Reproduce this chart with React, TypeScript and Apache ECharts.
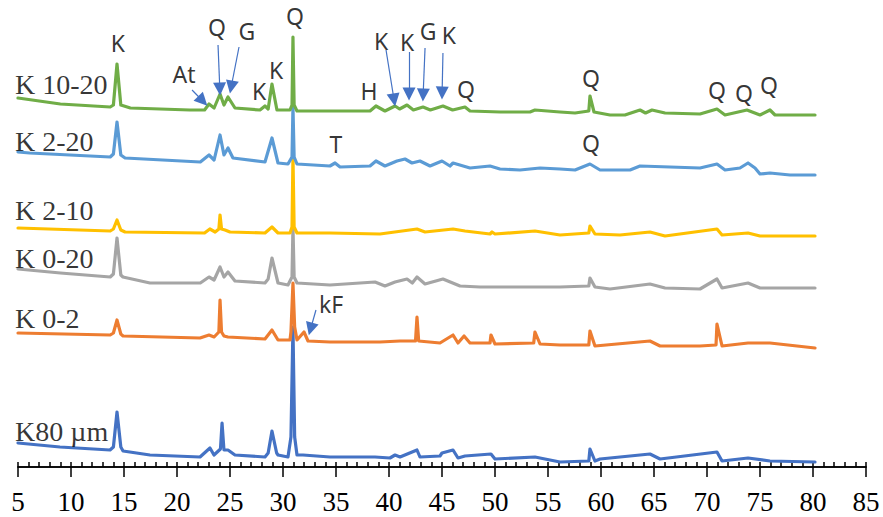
import React, { useEffect, useRef } from "react";
import * as echarts from "echarts";

// 2θ (deg) vs stacked intensity (offset, arbitrary units)
const seriesNames = ["K80 µm", "K 0-2", "K 0-20", "K 2-10", "K 2-20", "K 10-20"];
const seriesColors = ["#4472C4", "#ED7D31", "#A5A5A5", "#FFC000", "#5B9BD5", "#70AD47"];

const k80um: number[][] = [
  [5.0, 24], [8.96, 20], [13.68, 17], [14.0, 20], [14.34, 55], [14.7, 20], [14.91, 16],
  [17.45, 12], [22.17, 10], [23.11, 19], [23.49, 12], [24.1, 18], [24.25, 44], [24.43, 17],
  [24.81, 17], [25.47, 12], [28.3, 10], [28.6, 14], [28.96, 36], [29.4, 14], [29.53, 12],
  [30.47, 10], [30.75, 30], [30.94, 140], [31.1, 30], [31.32, 12], [31.89, 12], [34.43, 10],
  [38.68, 10], [40.09, 9], [40.57, 12], [41.04, 10], [42.64, 17], [42.92, 10], [44.81, 11],
  [45.0, 14], [46.04, 17], [46.51, 9], [47.17, 11], [49.62, 13], [50.0, 8], [53.77, 10],
  [56.13, 5], [58.85, 6], [58.96, 18], [59.43, 6], [59.91, 8], [64.62, 13], [65.57, 8],
  [70.94, 15], [71.42, 6], [73.87, 9], [75.94, 6], [80.19, 5],
];

const k0_2: number[][] = [
  [5.0, 134], [13.7, 132], [14.0, 134], [14.34, 147], [14.7, 133], [14.91, 131], [22.17, 129],
  [23.02, 132], [23.5, 130], [23.95, 135], [24.06, 167], [24.2, 135], [24.43, 131], [24.81, 130],
  [28.3, 128], [28.96, 137], [29.53, 127], [30.66, 127], [30.75, 135], [30.94, 184], [31.1, 140],
  [31.32, 127], [31.98, 135], [32.36, 126], [34.43, 125], [39.15, 125], [41.04, 126], [42.5, 126],
  [42.64, 150], [42.8, 126], [44.81, 124], [46.04, 132], [46.51, 124], [47.08, 131], [47.64, 124],
  [49.53, 124], [49.62, 132], [50.0, 123], [53.65, 124], [53.77, 135], [54.25, 123], [56.13, 122],
  [58.85, 122], [58.96, 136], [59.43, 121], [64.62, 126], [65.57, 121], [69.34, 121], [70.85, 122],
  [70.94, 143], [71.42, 121], [73.87, 124], [75.94, 124], [80.19, 119],
];

const k0_20: number[][] = [
  [5.0, 198], [9.0, 194], [13.7, 190], [14.0, 193], [14.34, 229], [14.7, 192], [14.9, 190],
  [17.45, 184], [22.2, 184], [23.02, 190], [23.5, 187], [24.06, 200], [24.43, 190], [24.81, 195],
  [25.47, 186], [28.3, 184], [28.6, 188], [28.96, 209], [29.53, 184], [30.47, 182], [30.85, 190],
  [30.94, 240], [31.05, 190], [31.32, 184], [34.43, 182], [38.68, 185], [39.62, 181], [40.57, 185],
  [41.7, 188], [42.2, 184], [42.64, 190], [43.4, 183], [45.09, 188], [46.7, 181], [48.58, 180],
  [52.36, 180], [56.13, 180], [58.85, 181], [58.96, 189], [59.43, 180], [60.85, 178], [64.62, 183],
  [66.04, 179], [69.34, 178], [70.94, 188], [71.42, 179], [73.87, 184], [75.0, 179], [80.19, 179],
];

const k2_10: number[][] = [
  [5.0, 239], [13.7, 236], [14.0, 238], [14.34, 247], [14.7, 237], [15.1, 235], [22.6, 234],
  [23.1, 238], [23.6, 235], [23.95, 238], [24.06, 252], [24.2, 238], [24.53, 237], [25.0, 235],
  [28.3, 234], [28.96, 240], [29.53, 234], [30.66, 234], [30.85, 240], [30.94, 310], [31.05, 240],
  [31.32, 234], [34.43, 234], [39.15, 233], [42.64, 238], [43.4, 235], [46.04, 238], [47.17, 236],
  [49.53, 233], [49.72, 235], [50.0, 233], [53.77, 236], [56.13, 232], [58.85, 234], [58.96, 241],
  [59.43, 233], [61.79, 232], [64.62, 235], [66.04, 231], [70.94, 238], [71.42, 232], [73.87, 234],
  [75.0, 231], [80.19, 231],
];

const k2_20: number[][] = [
  [5.0, 315], [6.1, 314], [13.7, 310], [14.0, 313], [14.34, 345], [14.7, 312], [15.1, 309],
  [22.2, 305], [23.02, 312], [23.5, 307], [24.06, 332], [24.43, 312], [24.81, 319], [25.28, 309],
  [28.3, 305], [28.96, 329], [29.53, 304], [30.47, 303], [30.85, 310], [30.94, 360], [31.05, 310],
  [31.32, 303], [34.43, 301], [34.91, 304], [35.38, 300], [38.21, 301], [38.77, 306], [39.62, 301],
  [40.75, 306], [41.51, 308], [42.17, 304], [42.92, 306], [43.87, 301], [45.0, 306], [45.75, 301],
  [46.04, 304], [47.64, 299], [49.53, 301], [50.47, 298], [52.36, 297], [54.25, 299], [56.13, 298],
  [57.55, 297], [58.96, 303], [59.91, 297], [62.74, 297], [63.68, 301], [66.51, 300], [69.34, 299],
  [70.94, 303], [71.7, 297], [73.11, 299], [73.87, 304], [74.53, 299], [75.0, 293], [75.94, 294],
  [77.83, 292], [80.19, 292],
];

const k10_20: number[][] = [
  [5.0, 369], [9.0, 363], [13.7, 360], [14.0, 362], [14.34, 403], [14.7, 362], [15.6, 359],
  [21.2, 357], [22.6, 357], [23.02, 363], [23.5, 359], [24.06, 373], [24.43, 362], [24.81, 370],
  [25.47, 359], [27.83, 357], [28.3, 361], [28.6, 358], [28.96, 383], [29.43, 357], [30.66, 357],
  [30.85, 362], [30.94, 430], [31.05, 362], [31.32, 356], [34.43, 356], [38.21, 356], [38.77, 361],
  [39.62, 356], [40.57, 361], [41.0, 358], [41.7, 362], [42.3, 357], [43.21, 360], [43.9, 357],
  [45.09, 361], [46.0, 357], [47.17, 360], [47.64, 356], [50.5, 355], [53.3, 355], [53.77, 357],
  [56.13, 355], [57.55, 354], [58.85, 356], [58.96, 371], [59.34, 355], [60.85, 352], [62.26, 352],
  [63.68, 357], [64.2, 354], [64.81, 357], [66.04, 354], [69.34, 353], [70.94, 358], [71.7, 352],
  [73.77, 357], [75.0, 352], [75.94, 357], [76.42, 352], [80.19, 352],
];

const seriesData = [k80um, k0_2, k0_20, k2_10, k2_20, k10_20];

// sample name labels: [2θ, intensity]
const nameLabelAnchors: number[][] = [
  [4.72, 36], [4.72, 149], [4.72, 209], [4.72, 257], [4.72, 326], [4.72, 383],
];

// phase labels: [text, 2θ, intensity]
const phaseLabels: [string, number, number][] = [
  ["K", 14.43, 424], ["At", 20.66, 393], ["Q", 23.77, 440], ["G", 26.6, 436],
  ["K", 27.74, 376], ["K", 29.34, 397], ["Q", 31.13, 451], ["H", 38.11, 376],
  ["K", 39.25, 426], ["K", 41.7, 425], ["G", 43.68, 436], ["K", 45.66, 432],
  ["Q", 47.26, 378], ["T", 35.0, 323], ["Q", 59.06, 389], ["Q", 59.06, 324],
  ["Q", 70.94, 377], ["Q", 73.49, 374], ["Q", 75.85, 382], ["kF", 34.53, 163],
];

// arrows: [from 2θ, from I, to 2θ (arrow-head centre), to I]
const arrows: number[][] = [
  [21.42, 377, 22.43, 366], [23.87, 422, 24.04, 378], [25.85, 420, 25.11, 380],
  [39.72, 417, 40.48, 367], [41.89, 415, 41.89, 373], [43.4, 419, 43.22, 372],
  [45.09, 414, 45.01, 374], [33.11, 157, 32.6, 138],
];

const X_MIN = 5;
const X_MAX = 85;
const X_STEP = 5;
const Y_MAX = 457;

export default function App() {
  const ref = useRef<HTMLDivElement>(null);
  useEffect(() => {
    if (!ref.current) return;
    const chart = echarts.init(ref.current, undefined, { renderer: "svg" });
    const axisColor = "#000";
    const option: any = {
      animation: false,
      backgroundColor: "#fff",
      grid: [
        { left: 18, right: 17, top: 10, bottom: 50 },
        { left: 18, right: 17, top: 10, bottom: 50 },
      ],
      xAxis: [
        {
          type: "value", gridIndex: 0, min: X_MIN, max: X_MAX, interval: X_STEP, position: "bottom",
          axisLine: { show: true, lineStyle: { color: axisColor, width: 1.5 } },
          axisTick: { show: true, inside: true, length: 5, lineStyle: { color: axisColor, width: 1.5 } },
          minorTick: { show: true, splitNumber: 5, length: 5, lineStyle: { color: axisColor, width: 1.5 } },
          axisLabel: { show: true, margin: 21, fontFamily: "Liberation Serif", fontSize: 27, color: "#000" },
          splitLine: { show: false },
          minorSplitLine: { show: false },
        },
        {
          type: "value", gridIndex: 1, min: X_MIN, max: X_MAX, interval: X_STEP, position: "bottom",
          axisLine: { show: true, lineStyle: { color: axisColor, width: 1.5 } },
          axisTick: { show: true, inside: false, length: 10, lineStyle: { color: axisColor, width: 1.5 } },
          axisLabel: { show: false },
          splitLine: { show: false },
        },
      ],
      yAxis: [
        { type: "value", gridIndex: 0, min: 0, max: Y_MAX, show: false, splitLine: { show: false } },
        { type: "value", gridIndex: 1, min: 0, max: Y_MAX, show: false, splitLine: { show: false } },
      ],
      series: [
        ...seriesData.map((d, i) => ({
          name: seriesNames[i],
          type: "line",
          xAxisIndex: 0,
          yAxisIndex: 0,
          data: d,
          showSymbol: false,
          symbol: "none",
          silent: true,
          lineStyle: { color: seriesColors[i], width: 3.2, join: "round", cap: "round" },
          z: 2 + i * 0.01,
        })),
        {
          type: "scatter",
          xAxisIndex: 0,
          yAxisIndex: 0,
          clip: false,
          silent: true,
          symbolSize: 0,
          data: nameLabelAnchors.map((p, i) => [p[0], p[1], seriesNames[i]]),
          label: {
            show: true,
            position: "right",
            distance: 0,
            formatter: (p: any) => p.data[2],
            fontFamily: "Liberation Serif",
            fontSize: 28,
            color: "#000",
          },
          z: 5,
        },
        {
          type: "scatter",
          xAxisIndex: 0,
          yAxisIndex: 0,
          clip: false,
          silent: true,
          symbolSize: 0,
          data: phaseLabels.map((p) => [p[1], p[2], p[0]]),
          label: {
            show: true,
            position: "inside",
            formatter: (p: any) => p.data[2],
            fontFamily: "Noto Sans",
            fontSize: 23,
            color: "#000",
          },
          markLine: {
            silent: true,
            symbol: ["none", "triangle"],
            symbolSize: 13,
            label: { show: false },
            lineStyle: { color: "#4472C4", width: 1.2, type: "solid" },
            itemStyle: { color: "#4472C4" },
            emphasis: { disabled: true },
            data: arrows.map((a) => [{ coord: [a[0], a[1]] }, { coord: [a[2], a[3]] }]),
          },
          z: 5,
        },
      ],
    };
    chart.setOption(option);
    return () => chart.dispose();
  }, []);
  return (
    <div
      ref={ref}
      style={{ position: "fixed", left: 0, top: 0, width: 883, height: 517, background: "#fff" }}
    />
  );
}
